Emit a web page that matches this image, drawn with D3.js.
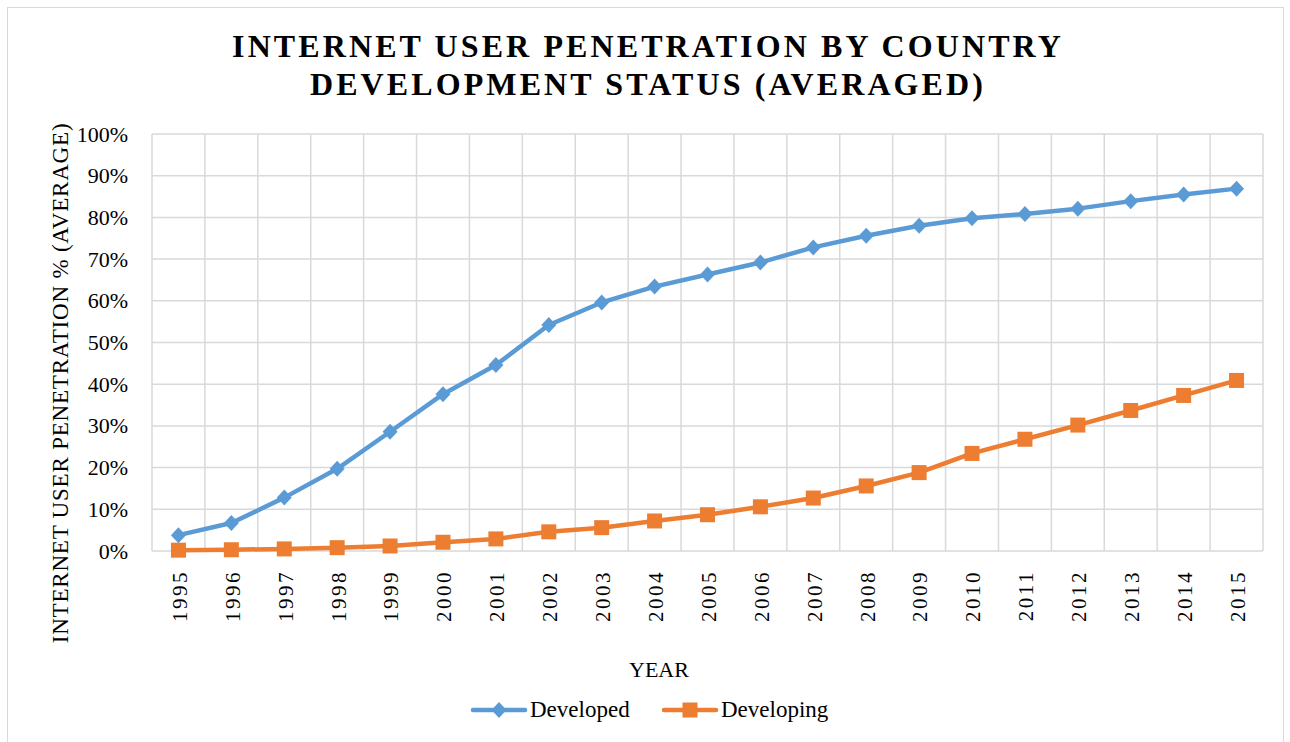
<!DOCTYPE html>
<html>
<head>
<meta charset="utf-8">
<script src="https://cdn.jsdelivr.net/npm/d3@7"></script>
<style>
  html, body { margin: 0; padding: 0; background: #fff; }
  svg { display: block; }
</style>
</head>
<body>
<svg id="chart" width="1290" height="742"></svg>
<script>
// Internet user penetration (%), averaged by development status
const years = ["1995","1996","1997","1998","1999","2000","2001","2002","2003","2004","2005",
               "2006","2007","2008","2009","2010","2011","2012","2013","2014","2015"];
const developed  = [3.8, 6.7, 12.8, 19.7, 28.6, 37.6, 44.6, 54.2, 59.6, 63.4, 66.3,
                    69.2, 72.8, 75.6, 78.0, 79.8, 80.8, 82.1, 83.9, 85.5, 86.9];
const developing = [0.2, 0.3, 0.5, 0.8, 1.2, 2.1, 2.9, 4.6, 5.6, 7.2, 8.7,
                    10.6, 12.7, 15.6, 18.8, 23.4, 26.8, 30.2, 33.7, 37.3, 40.9];
const yTicks = [0, 10, 20, 30, 40, 50, 60, 70, 80, 90, 100];
const seriesNames = ["Developed", "Developing"];

const W = 1290, H = 742;
const plot = { left: 152, right: 1263, top: 134, bottom: 551 };
const colors = { Developed: "#5b9bd5", Developing: "#ed7d31" };
const gridColor = "#d9d9d9";
const FONT = "Liberation Serif";

// Excel-style markers: upright diamond and square
const diamond = (hw, hh) => `M0,${-hh}L${hw},0L0,${hh}L${-hw},0Z`;
const square = s => `M${-s / 2},${-s / 2}h${s}v${s}h${-s}Z`;
const markerPath = { Developed: diamond(7.5, 8), Developing: square(15) };

const svg = d3.select("#chart");

// outer chart frame
svg.append("rect")
  .attr("x", 7.5).attr("y", 7.5)
  .attr("width", 1276).attr("height", H)
  .attr("fill", "#fff").attr("stroke", "#d9d9d9").attr("stroke-width", 1);

const x = d3.scaleBand().domain(years).range([plot.left, plot.right]);
const y = d3.scaleLinear().domain([0, 100]).range([plot.bottom, plot.top]);
const cx = d => x(d) + x.bandwidth() / 2;

// horizontal gridlines
svg.append("g").selectAll("line").data(yTicks).join("line")
  .attr("x1", plot.left).attr("x2", plot.right)
  .attr("y1", d => y(d)).attr("y2", d => y(d))
  .attr("stroke", gridColor).attr("stroke-width", 1.5);

// vertical gridlines at category boundaries
const bounds = years.map(d => x(d)).concat([plot.right]);
svg.append("g").selectAll("line").data(bounds).join("line")
  .attr("x1", d => d).attr("x2", d => d)
  .attr("y1", plot.top).attr("y2", plot.bottom)
  .attr("stroke", gridColor).attr("stroke-width", 1.5);

// y axis labels
const yAxis = d3.axisLeft(y).tickValues(yTicks).tickFormat(d => d + "%").tickSize(0).tickPadding(24);
const gy = svg.append("g").attr("transform", `translate(${plot.left},0)`).call(yAxis);
gy.select(".domain").remove();
gy.attr("font-family", FONT).attr("font-size", 22);
gy.selectAll("text").style("font-family", FONT).style("font-size", "22px").attr("fill", "#000");

// x axis labels (rotated, spaced digits)
const xAxis = d3.axisBottom(x).tickSize(0).tickPadding(0);
const gx = svg.append("g").attr("transform", `translate(0,${plot.bottom})`).call(xAxis);
gx.select(".domain").remove();
gx.attr("font-family", FONT).attr("font-size", 21);
gx.selectAll("text")
  .attr("transform", "translate(1,19) rotate(-90)")
  .attr("x", 0).attr("y", 0).attr("dy", "0.35em")
  .attr("text-anchor", "end")
  .style("font-family", FONT).style("font-size", "21px").style("letter-spacing", "2.5px")
  .attr("fill", "#000");

// series lines and markers
const line = d3.line().x((d, i) => cx(years[i])).y(d => y(d));
const seriesData = { Developed: developed, Developing: developing };

seriesNames.forEach(name => {
  const vals = seriesData[name];
  svg.append("path").datum(vals)
    .attr("d", line).attr("fill", "none")
    .attr("stroke", colors[name]).attr("stroke-width", 4.5)
    .attr("stroke-linejoin", "round").attr("stroke-linecap", "round");
  svg.append("g").selectAll("path").data(vals).join("path")
    .attr("transform", (d, i) => `translate(${cx(years[i])},${y(d)})`)
    .attr("d", markerPath[name]).attr("fill", colors[name]);
});

// title
const title = svg.append("text")
  .attr("text-anchor", "middle")
  .style("font-family", FONT)
  .style("font-size", "32px").style("font-weight", "bold").style("letter-spacing", "3.1px");
title.append("tspan").attr("x", 648).attr("y", 57).text("INTERNET USER PENETRATION BY COUNTRY");
title.append("tspan").attr("x", 648).attr("y", 95).text("DEVELOPMENT STATUS (AVERAGED)");

// axis titles
svg.append("text")
  .attr("transform", `translate(68,383) rotate(-90)`)
  .attr("text-anchor", "middle")
  .style("font-family", FONT).style("font-size", "23px").style("letter-spacing", "0.8px")
  .text("INTERNET USER PENETRATION % (AVERAGE)");

svg.append("text")
  .attr("x", 659).attr("y", 677).attr("text-anchor", "middle")
  .style("font-family", FONT).style("font-size", "22px").text("YEAR");

// legend
const legend = svg.append("g");
const legendItems = [
  { name: "Developed", x: 472 },
  { name: "Developing", x: 663 }
];
legendItems.forEach(it => {
  const g = legend.append("g").attr("transform", `translate(${it.x},710)`);
  g.append("line").attr("x1", 1).attr("x2", 53).attr("y1", 0).attr("y2", 0)
    .attr("stroke", colors[it.name]).attr("stroke-width", 4.5).attr("stroke-linecap", "round");
  g.append("path").attr("transform", "translate(27,0)").attr("d", markerPath[it.name]).attr("fill", colors[it.name]);
  g.append("text").attr("x", 58).attr("y", 7)
    .style("font-family", FONT).style("font-size", "23px").text(it.name);
});
</script>
</body>
</html>
